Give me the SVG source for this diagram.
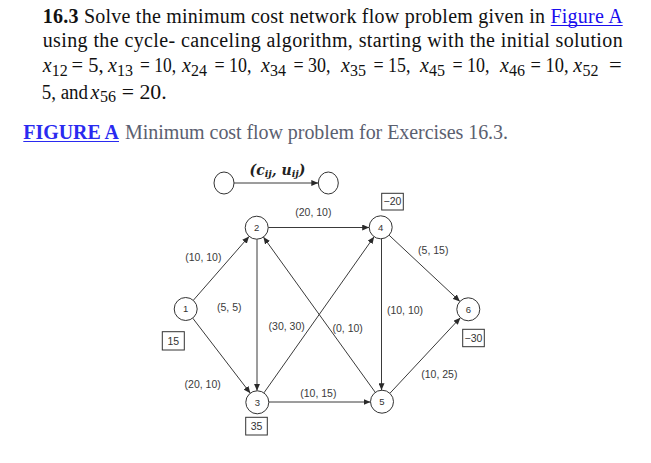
<svg xmlns="http://www.w3.org/2000/svg" width="651" height="463" viewBox="0 0 651 463">
<defs>
<style>
.t{font-family:"Liberation Serif","Times New Roman",serif;font-size:20px;fill:#111}
.sub{font-size:16px}
.it{font-style:italic}
.link{fill:#1a0dee}
.cap{font-family:"Liberation Serif","Times New Roman",serif;font-size:20px;fill:#5b6070}
.capb{font-family:"Liberation Serif","Times New Roman",serif;font-size:20px;font-weight:bold;fill:#2a2af0}
.node circle{fill:#fff;stroke:#333;stroke-width:1}
.node text{font-family:"Liberation Sans",Arial,sans-serif;font-size:9.5px;fill:#333;text-anchor:middle}
.edge{stroke:#3a3a3a;stroke-width:1;fill:none;marker-end:url(#ah)}
.lbl{font-family:"Liberation Sans",Arial,sans-serif;font-size:10.5px;fill:#3a3a3a;text-anchor:middle}
.box{fill:#fff;stroke:#333;stroke-width:1}
.btxt{font-family:"Liberation Sans",Arial,sans-serif;font-size:10.5px;fill:#333;text-anchor:middle}
</style>
<marker id="ah" markerUnits="userSpaceOnUse" markerWidth="8" markerHeight="6" refX="7" refY="3" orient="auto">
<path d="M0,0 L7,3 L0,6 Z" fill="#2a2a2a"/>
</marker>
</defs>

<g id="problem-text">
<text class="t" x="42.7" y="23" textLength="580" lengthAdjust="spacing"><tspan font-weight="bold">16.3</tspan> Solve the minimum cost network flow problem given in <tspan class="link">Figure A</tspan></text>
<line x1="550.7" y1="25.5" x2="622.7" y2="25.5" stroke="#1a0dee" stroke-width="1"/>
<text class="t" x="42.7" y="46.7" textLength="580" lengthAdjust="spacing">using the cycle- canceling algorithm, starting with the initial solution</text>

<text class="t" y="71.7"><tspan class="it" x="42.7">x</tspan><tspan class="sub" x="51.7" y="75.5">12</tspan></text>
<text class="t" x="71.5" y="71.7" textLength="32" lengthAdjust="spacingAndGlyphs">= 5,</text>
<text class="t" y="71.7"><tspan class="it" x="108">x</tspan><tspan class="sub" x="117" y="75.5">13</tspan></text>
<text class="t" x="140" y="71.7" textLength="36" lengthAdjust="spacingAndGlyphs">= 10,</text>
<text class="t" y="71.7"><tspan class="it" x="182">x</tspan><tspan class="sub" x="191" y="75.5">24</tspan></text>
<text class="t" x="214.5" y="71.7" textLength="37" lengthAdjust="spacingAndGlyphs">= 10,</text>
<text class="t" y="71.7"><tspan class="it" x="261">x</tspan><tspan class="sub" x="270" y="75.5">34</tspan></text>
<text class="t" x="293.5" y="71.7" textLength="37" lengthAdjust="spacingAndGlyphs">= 30,</text>
<text class="t" y="71.7"><tspan class="it" x="341">x</tspan><tspan class="sub" x="350" y="75.5">35</tspan></text>
<text class="t" x="373.5" y="71.7" textLength="37" lengthAdjust="spacingAndGlyphs">= 15,</text>
<text class="t" y="71.7"><tspan class="it" x="420">x</tspan><tspan class="sub" x="429" y="75.5">45</tspan></text>
<text class="t" x="452.5" y="71.7" textLength="37" lengthAdjust="spacingAndGlyphs">= 10,</text>
<text class="t" y="71.7"><tspan class="it" x="500">x</tspan><tspan class="sub" x="509" y="75.5">46</tspan></text>
<text class="t" x="530.5" y="71.7" textLength="38" lengthAdjust="spacingAndGlyphs">= 10,</text>
<text class="t" y="71.7"><tspan class="it" x="573.3">x</tspan><tspan class="sub" x="582.5" y="75.5">52</tspan></text>
<text class="t" x="609" y="71.7" textLength="12.7" lengthAdjust="spacingAndGlyphs">=</text>

<text class="t" x="41.7" y="98.5" textLength="46.3" lengthAdjust="spacingAndGlyphs">5, and</text>
<text class="t" y="98.5"><tspan class="it" x="90.5">x</tspan><tspan class="sub" x="100" y="102">56</tspan></text>
<text class="t" x="121.7" y="98.5" textLength="45" lengthAdjust="spacingAndGlyphs">= 20.</text>
</g>

<g id="caption">
<text class="capb" x="23.3" y="139" textLength="95.7" lengthAdjust="spacingAndGlyphs">FIGURE A</text>
<line x1="23.3" y1="141.5" x2="119" y2="141.5" stroke="#2a2af0" stroke-width="1.2"/>
<text class="cap" x="125" y="139" textLength="383" lengthAdjust="spacing">Minimum cost flow problem for Exercises 16.3.</text>
</g>

<g id="legend">
<ellipse cx="224" cy="183" rx="10" ry="11" fill="#fff" stroke="#333" stroke-width="1"/>
<ellipse cx="328.3" cy="183" rx="10" ry="11" fill="#fff" stroke="#333" stroke-width="1"/>
<line class="edge" x1="234" y1="183" x2="318.3" y2="183"/>
<text x="277.5" y="174.5" text-anchor="middle" font-family="'DejaVu Serif','Liberation Serif',serif" font-size="14" font-weight="bold" font-style="italic" fill="#222">(c<tspan font-size="9.5" dy="2.5">ij</tspan><tspan dy="-2.5">, u</tspan><tspan font-size="9.5" dy="2.5">ij</tspan><tspan dy="-2.5">)</tspan></text>
</g>

<g id="connectors">
<line class="edge" x1="193.3" y1="300.3" x2="249.1" y2="236.4"/>
<line class="edge" x1="192.7" y1="318.1" x2="250.3" y2="393.2"/>
<line class="edge" x1="268.2" y1="227.5" x2="369.2" y2="227.5"/>
<line class="edge" x1="257" y1="239.2" x2="257" y2="390.8"/>
<line class="edge" x1="375.3" y1="392.4" x2="263.4" y2="237"/>
<line class="edge" x1="263.9" y1="392.9" x2="374.1" y2="236.7"/>
<line class="edge" x1="381.5" y1="238.8" x2="381.5" y2="390.2"/>
<line class="edge" x1="389.1" y1="235.2" x2="459.9" y2="301.4"/>
<line class="edge" x1="268.8" y1="402" x2="370.5" y2="402"/>
<line class="edge" x1="389.9" y1="393.3" x2="460.4" y2="317.7"/>
</g>

<g id="edge-labels">
<text class="lbl" x="313.3" y="216">(20, 10)</text>
<text class="lbl" x="203.3" y="261.3">(10, 10)</text>
<text class="lbl" x="433.3" y="253.6">(5, 15)</text>
<text class="lbl" x="229.3" y="311.3">(5, 5)</text>
<text class="lbl" x="286.7" y="330.3">(30, 30)</text>
<text class="lbl" x="347.7" y="332">(0, 10)</text>
<text class="lbl" x="405" y="314.3">(10, 10)</text>
<text class="lbl" x="202.7" y="387.6">(20, 10)</text>
<text class="lbl" x="318.3" y="397">(10, 15)</text>
<text class="lbl" x="439.3" y="378">(10, 25)</text>
</g>

<g id="node1" class="node"><circle cx="185.7" cy="309" r="11.5"/><text x="185.7" y="312.3">1</text></g>
<g id="node2" class="node"><circle cx="256.7" cy="227.7" r="11.5"/><text x="256.7" y="231">2</text></g>
<g id="node3" class="node"><circle cx="257.3" cy="402.3" r="11.5"/><text x="257.3" y="405.6">3</text></g>
<g id="node4" class="node"><circle cx="380.7" cy="227.3" r="11.5"/><text x="380.7" y="230.6">4</text></g>
<g id="node5" class="node"><circle cx="382" cy="401.7" r="11.5"/><text x="382" y="405">5</text></g>
<g id="node6" class="node"><circle cx="468.3" cy="309.3" r="11.5"/><text x="468.3" y="312.6">6</text></g>

<g id="supply4"><rect class="box" x="381.7" y="193.3" width="21.6" height="16.7"/><text class="btxt" x="392.5" y="205.3">−20</text></g>
<g id="supply1"><rect class="box" x="162.3" y="331.7" width="22" height="18.3"/><text class="btxt" x="173.3" y="344.5">15</text></g>
<g id="supply3"><rect class="box" x="245.7" y="417.3" width="21.6" height="17.7"/><text class="btxt" x="256.5" y="429.8">35</text></g>
<g id="supply6"><rect class="box" x="462.7" y="329.3" width="21.6" height="17.4"/><text class="btxt" x="473.5" y="341.8">−30</text></g>
</svg>
